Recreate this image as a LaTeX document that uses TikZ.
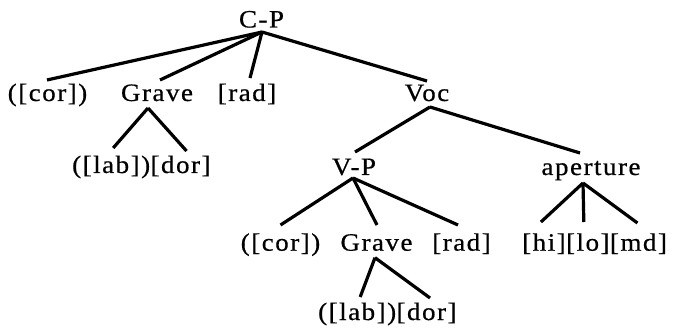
\documentclass[tikz,border=0pt]{standalone}
\usepackage{fontspec}
\setmainfont{Liberation Serif}[FakeStretch=1.08,LetterSpace=6,FakeBold=0.6]
\usetikzlibrary{calc}
\begin{document}
\begin{tikzpicture}[x=1pt,y=-1pt,
  lbl/.style={inner sep=0pt, anchor=base, font=\fontsize{25}{30}\selectfont},
  lblw/.style={lbl, anchor=base west},
  br/.style={line width=3.2pt}]
\useasboundingbox (0,0) rectangle (682,328);

% upper tree: C-Place
\node[lbl] (cp) at (261.5,27.5) {C-P};
\node[lbl] (cor1) at (47.5,101) {([cor])};
\node[lbl] (grave1) at (157,101) {Grave};
\node[lbl] (rad1) at (247,101) {[rad]};
\node[lbl] (voc) at (427,101) {Voc};
\node[lblw] (lab1) at (72,173) {([lab])};
\node[lblw] (dor1) at (lab1.base east) {[dor]};

% vocalic branch
\node[lbl] (vp) at (354,175) {V-P};
\node[lbl] (ap) at (591,175) {aperture};
\node[lbl] (cor2) at (280.5,250.7) {([cor])};
\node[lbl] (grave2) at (376.5,250.7) {Grave};
\node[lbl] (rad2) at (461.5,250.7) {[rad]};
\node[lblw] (hi) at (522,250.7) {[hi]};
\node[lblw] (lo) at (hi.base east) {[lo]};
\node[lblw] (md) at (lo.base east) {[md]};
\node[lblw] (lab2) at (318,320) {([lab])};
\node[lblw] (dor2) at (lab2.base east) {[dor]};

% branching points under the mother nodes
\coordinate (cpA) at ($(cp.base)+(0.5,4.5)$);
\coordinate (g1A) at ($(grave1.base)+(-9,7)$);
\coordinate (vocA) at ($(voc.base)+(3,6)$);
\coordinate (vpA) at ($(vp.base)+(-1,3)$);
\coordinate (g2A) at ($(grave2.base)+(-1.5,7)$);
\coordinate (apA) at ($(ap.base)+(-8,8)$);

\draw[br] (cpA) -- ($(cor1.base)+(-0.5,-21)$);
\draw[br] (cpA) -- ($(grave1.base)+(3,-21)$);
\draw[br] (cpA) -- ($(rad1.base)+(3,-23)$);
\draw[br] (cpA) -- ($(voc.base)+(0,-20)$);

\draw[br] (g1A) -- ($(lab1.base)+(2,-25)$);
\draw[br] (g1A) -- ($(dor1.base)+(6,-22)$);

\draw[br] (vocA) -- ($(vp.base)+(1,-23)$);
\draw[br] (vocA) -- ($(ap.base)+(-11,-22)$);

\draw[br] (vpA) -- ($(cor2.base)+(0,-25.7)$);
\draw[br] (vpA) -- ($(grave2.base)+(0.5,-25.7)$);
\draw[br] (vpA) -- ($(rad2.base)+(-3.5,-25.7)$);

\draw[br] (g2A) -- ($(lab2.base)+(3,-23)$);
\draw[br] (g2A) -- ($(dor2.base)+(3.5,-22)$);

\draw[br] (apA) -- ($(hi.base)+(-3,-28.7)$);
\draw[br] (apA) -- ($(lo.base)+(-4,-28.7)$);
\draw[br] (apA) -- ($(md.base)+(-1,-27.7)$);
\end{tikzpicture}
\end{document}
